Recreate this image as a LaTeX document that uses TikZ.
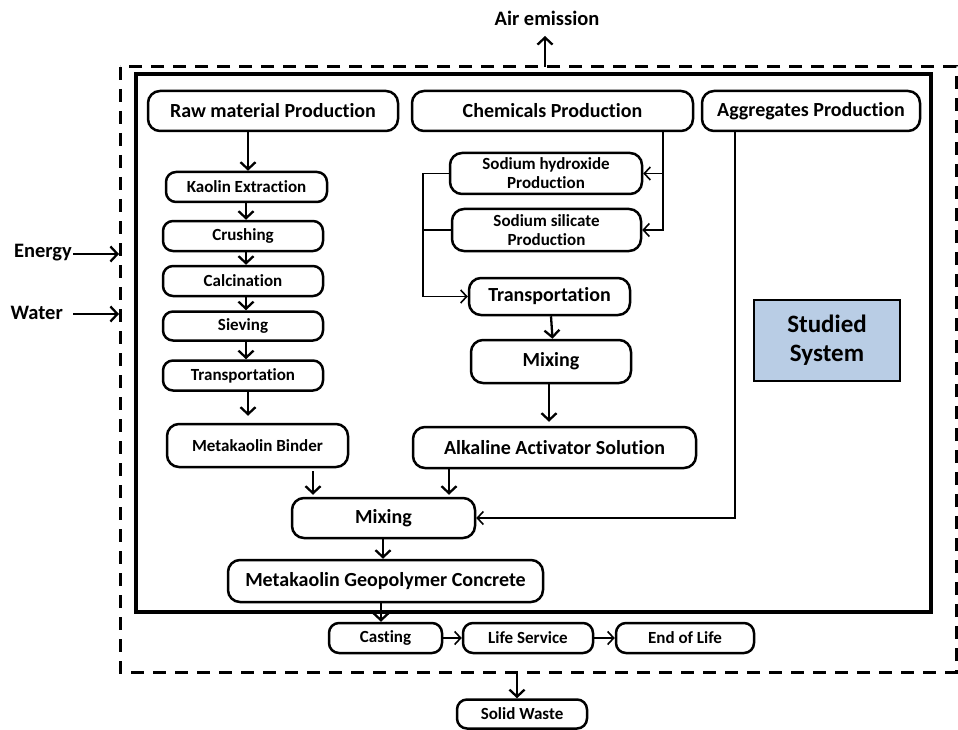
\documentclass[tikz,border=0pt]{standalone}
\usepackage{fontspec}
\setmainfont{Carlito}[Ligatures=NoCommon]
\usetikzlibrary{arrows.meta}
\begin{document}
\begin{tikzpicture}[x=1pt,y=-1pt,
  box/.style={draw, line width=2.5pt, rounded corners=12pt, inner sep=0pt, align=center, font=\bfseries},
  sbox/.style={box, rounded corners=10pt, font=\bfseries\fontsize{17}{19}\selectfont},
  mbox/.style={box, font=\bfseries\fontsize{20}{23}\selectfont},
  lbox/.style={box, font=\bfseries\fontsize{20}{23}\selectfont},
  arr/.style={line width=2.3pt, -{Straight Barb[length=7pt,width=15pt,line width=2.3pt]}},
  tarr/.style={line width=1.6pt, -{Straight Barb[length=6pt,width=13pt,line width=1.6pt]}},
  tline/.style={line width=1.6pt},
  lbl/.style={font=\bfseries\fontsize{20.5}{23}\selectfont, inner sep=1pt}]
\useasboundingbox (0,0) rectangle (958,730);
% system boundaries
\draw[line width=3pt, dash pattern=on 13pt off 9pt] (120,67) rectangle (956,672);
\draw[line width=4pt] (136,74) rectangle (931,612);
% top row
\node[lbox, minimum width=250pt, minimum height=40pt] (raw) at (273,111) {Raw material Production};
\node[lbox, minimum width=281pt, minimum height=40pt] (chem) at (552.5,111) {Chemicals Production};
\node[lbox, minimum width=218pt, minimum height=40pt] (agg) at (811,111) {Aggregates Production};
% left column
\node[sbox, minimum width=161pt, minimum height=30pt] (kao) at (246.5,187) {Kaolin Extraction};
\node[sbox, minimum width=160pt, minimum height=30pt] (cru) at (243,236) {Crushing};
\node[sbox, minimum width=160pt, minimum height=30pt] (cal) at (243,281) {Calcination};
\node[sbox, minimum width=160pt, minimum height=29pt] (sie) at (243,326) {Sieving};
\node[sbox, minimum width=160pt, minimum height=30pt] (trl) at (243,375.5) {Transportation};
\node[sbox, rounded corners=12pt, minimum width=181pt, minimum height=43pt] (bin) at (257.5,445.5) {Metakaolin Binder};
% middle column
\node[sbox, rounded corners=12pt, minimum width=192pt, minimum height=41pt] (naoh) at (546,173.5) {Sodium hydroxide\\Production};
\node[sbox, rounded corners=12pt, minimum width=189pt, minimum height=42pt] (sil) at (546.5,230) {Sodium silicate\\Production};
\node[mbox, minimum width=161pt, minimum height=37pt] (trm) at (549.5,296.5) {Transportation};
\node[mbox, minimum width=160pt, minimum height=43pt] (mixm) at (551,361.5) {Mixing};
\node[mbox, minimum width=283pt, minimum height=41pt] (alk) at (554.5,447.5) {Alkaline Activator Solution};
% bottom
\node[lbox, minimum width=183pt, minimum height=40pt] (mix) at (383.5,518) {Mixing};
\node[lbox, minimum width=315pt, minimum height=42pt] (geo) at (385.5,581) {Metakaolin Geopolymer Concrete};
\node[sbox, minimum width=113pt, minimum height=30pt] (cast) at (385.5,638) {Casting};
\node[sbox, minimum width=130pt, minimum height=30pt] (life) at (528,638) {Life Service};
\node[sbox, minimum width=138pt, minimum height=30pt] (eol) at (685,638) {End of Life};
\node[sbox, minimum width=130pt, minimum height=29pt] (sw) at (522,714) {Solid Waste};
% studied system
\node[draw, line width=2.2pt, fill={rgb,255:red,185;green,205;blue,229}, minimum width=146pt, minimum height=81pt, align=center, font=\fontsize{25}{29}\selectfont\bfseries] (stud) at (827,340.5) {Studied\\System};
% external labels
\node[lbl] (air) at (547,18) {Air emission};
\node[lbl, anchor=east] (energy) at (73,253) {Energy};
\node[lbl, anchor=east] (water) at (64,313) {Water};
\coordinate (airIn) at (545,67);
\coordinate (airTip) at (545,36);
\coordinate (eIn) at (119,254);
\coordinate (wIn) at (119,314);
\coordinate (wOut) at (73,314);
\coordinate (swOut) at (517,672);
% external arrows
\draw[arr] (airIn) -- (airTip);
\draw[arr] (energy.east |- eIn) -- (eIn);
\draw[arr] (wOut) -- (wIn);
\draw[arr] (swOut) -- (swOut |- sw.north);
% left chain
\draw[arr] ([xshift=1.5pt]kao.north |- raw.south) -- ([xshift=1.5pt]kao.north);
\draw[arr] ([xshift=-0.5pt]kao.south) -- ([xshift=3pt]cru.north);
\draw[arr] ([xshift=3pt]cru.south) -- ([xshift=3pt]cal.north);
\draw[arr] ([xshift=3pt]cal.south) -- ([xshift=3pt]sie.north);
\draw[arr] ([xshift=3pt]sie.south) -- ([xshift=3pt]trl.north);
\draw[arr, shorten >=7pt] ([xshift=5pt]trl.south) -- ([xshift=-9.5pt]bin.north);
\draw[arr, shorten <=3pt, shorten >=2pt] ([xshift=55.5pt]bin.south) -- ([xshift=-70.5pt]mix.north);
\draw[arr, shorten >=2pt] ([xshift=-105.5pt]alk.south) -- ([xshift=65.5pt]mix.north);
% chemicals branch
\coordinate (cb) at ([xshift=110.5pt]chem.south);
\draw[tarr] (cb) |- (sil.east);
\draw[tarr] (cb |- naoh.east) -- (naoh.east);
\coordinate (lx) at (423,173.5);
\draw[tarr] (naoh.west) -- (lx) |- (trm.west);
\draw[tline] (sil.west) -- (sil.west -| lx);
\draw[arr] ([xshift=1.5pt]trm.south) -- ([xshift=1.5pt]mixm.north);
\draw[arr, shorten >=4pt] ([xshift=-2pt]mixm.south) -- ([xshift=-5.5pt]alk.north);
% aggregates
\draw[tarr] ([xshift=-76pt]agg.south) |- (mix.east);
% bottom chain
\draw[arr] ([xshift=-0.5pt]mix.south) -- ([xshift=-2.5pt]geo.north);
\draw[arr] ([xshift=-4.5pt]geo.south) -- ([xshift=-4.5pt]cast.north);
\draw[tarr] (cast.east) -- (life.west);
\draw[tarr] (life.east) -- (eol.west);
\end{tikzpicture}
\end{document}
